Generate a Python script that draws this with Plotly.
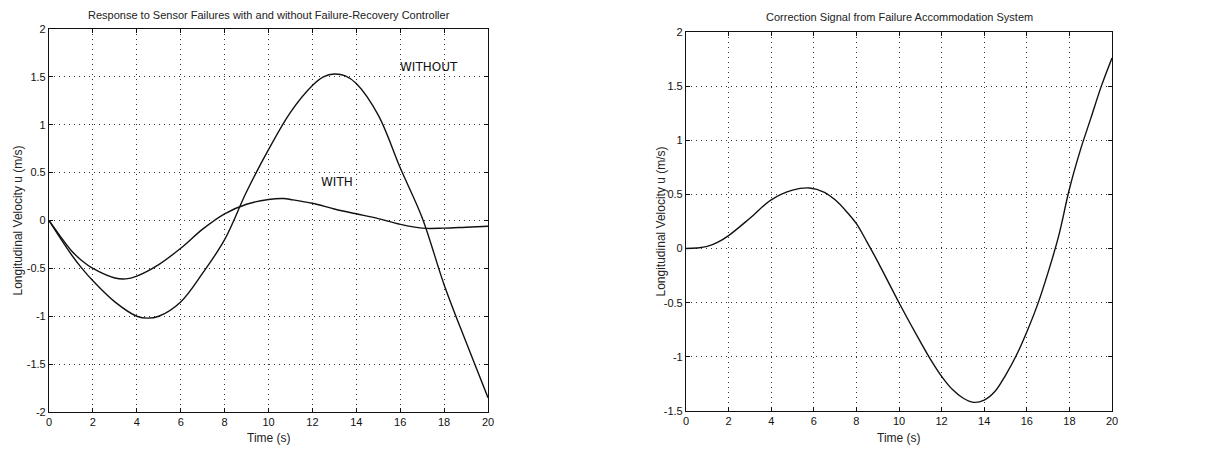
import plotly.graph_objects as go

# ---- data ----
t_without = [0, 0.5, 1, 1.5, 2, 3, 4, 4.5, 5, 6, 7, 8, 9, 10, 11, 12, 12.5, 13, 13.5, 14, 15, 16, 17, 18, 19, 20]
u_without = [0, -0.18, -0.35, -0.5, -0.63, -0.85, -1.0, -1.02, -1.0, -0.85, -0.55, -0.2, 0.3, 0.74, 1.13, 1.41, 1.5, 1.53, 1.51, 1.43, 1.1, 0.55, 0.03, -0.67, -1.27, -1.85]

t_with = [0, 0.5, 1, 1.5, 2, 3, 3.5, 4, 5, 6, 7, 8, 9, 10, 10.7, 11, 12, 13, 14, 15, 16, 17, 18, 19, 20]
u_with = [0, -0.16, -0.31, -0.42, -0.5, -0.6, -0.61, -0.58, -0.46, -0.29, -0.09, 0.07, 0.17, 0.22, 0.23, 0.22, 0.18, 0.12, 0.07, 0.02, -0.04, -0.08, -0.08, -0.07, -0.06]

t_corr = [0, 0.5, 1, 1.5, 2, 3, 4, 5, 5.8, 6.5, 7, 7.5, 8, 8.5, 9, 9.5, 10, 11, 11.5, 12, 12.5, 13, 13.5, 14, 14.5, 15, 15.5, 16, 16.5, 17, 17.5, 18, 18.5, 19, 19.5, 20]
u_corr = [0, 0.005, 0.02, 0.06, 0.12, 0.28, 0.45, 0.54, 0.56, 0.52, 0.45, 0.35, 0.23, 0.06, -0.12, -0.31, -0.5, -0.86, -1.03, -1.18, -1.3, -1.38, -1.42, -1.4, -1.32, -1.17, -0.99, -0.77, -0.52, -0.22, 0.12, 0.55, 0.9, 1.2, 1.5, 1.76]

x_ticks = [0, 2, 4, 6, 8, 10, 12, 14, 16, 18, 20]
y_ticks_left = [-2, -1.5, -1, -0.5, 0, 0.5, 1, 1.5, 2]
y_ticks_right = [-1.5, -1, -0.5, 0, 0.5, 1, 1.5, 2]

title_left = "Response to Sensor Failures with and without Failure-Recovery Controller"
title_right = "Correction Signal from Failure Accommodation System"
x_title = "Time (s)"
y_title = "Longitudinal Velocity u (m/s)"

W, H = 1209, 451
OFF = 8  # default body margin of the html page
FONT = "Liberation Sans"

def fmt(v):
    return "%g" % v

def px(x):
    return (x - OFF) / W

def py(y):
    return 1 - (y - OFF) / H

fig = go.Figure()
line = dict(color="#111111", width=1.4, shape="spline", smoothing=1.0)
fig.add_trace(go.Scatter(x=t_without, y=u_without, mode="lines", line=line, xaxis="x", yaxis="y", showlegend=False))
fig.add_trace(go.Scatter(x=t_with, y=u_with, mode="lines", line=line, xaxis="x", yaxis="y", showlegend=False))
fig.add_trace(go.Scatter(x=t_corr, y=u_corr, mode="lines", line=line, xaxis="x2", yaxis="y2", showlegend=False))

ax_common = dict(
    showline=True, linecolor="#111111", linewidth=1.2, mirror="ticks",
    ticks="inside", ticklen=4, tickcolor="#111111",
    showgrid=True, gridcolor="#333333", griddash="1px,4px", gridwidth=1,
    zeroline=False, automargin=False,
    tickfont=dict(family=FONT, size=11, color="#111111"),
)

L0, L1 = px(49), px(488)
R0, R1 = px(686), px(1112)
LT, LB = py(29), py(412)
RT, RB = py(32), py(411)

fig.update_layout(
    width=W, height=H, autosize=False,
    margin=dict(l=0, r=0, t=0, b=0, autoexpand=False),
    paper_bgcolor="white", plot_bgcolor="white",
    xaxis=dict(ax_common, domain=[L0, L1], range=[0, 20], tickvals=x_ticks,
               ticktext=[fmt(v) for v in x_ticks], anchor="y"),
    yaxis=dict(ax_common, domain=[LB, LT], range=[-2, 2], tickvals=y_ticks_left,
               ticktext=[fmt(v) for v in y_ticks_left], anchor="x"),
    xaxis2=dict(ax_common, domain=[R0, R1], range=[0, 20], tickvals=x_ticks,
                ticktext=[fmt(v) for v in x_ticks], anchor="y2"),
    yaxis2=dict(ax_common, domain=[RB, RT], range=[-1.5, 2], tickvals=y_ticks_right,
                ticktext=[fmt(v) for v in y_ticks_right], anchor="x2"),
)

tf = dict(family=FONT, size=11, color="#222222")
lf = dict(family=FONT, size=12, color="#222222")
ann = [
    dict(text=title_left, x=(L0 + L1) / 2, y=py(15), xref="paper", yref="paper",
         showarrow=False, font=tf, xanchor="center", yanchor="middle"),
    dict(text=title_right, x=(R0 + R1) / 2, y=py(17), xref="paper", yref="paper",
         showarrow=False, font=tf, xanchor="center", yanchor="middle"),
    dict(text=x_title, x=(L0 + L1) / 2, y=py(438), xref="paper", yref="paper",
         showarrow=False, font=lf, xanchor="center", yanchor="middle"),
    dict(text=x_title, x=(R0 + R1) / 2, y=py(438), xref="paper", yref="paper",
         showarrow=False, font=lf, xanchor="center", yanchor="middle"),
    dict(text=y_title, x=px(17), y=(LB + LT) / 2, xref="paper", yref="paper", textangle=-90,
         showarrow=False, font=lf, xanchor="center", yanchor="middle"),
    dict(text=y_title, x=px(660), y=(RB + RT) / 2, xref="paper", yref="paper", textangle=-90,
         showarrow=False, font=lf, xanchor="center", yanchor="middle"),
    dict(text="WITHOUT", x=17.3, y=1.6, xref="x", yref="y",
         showarrow=False, font=dict(family="DejaVu Sans", size=12, color="#111111"),
         xanchor="center", yanchor="middle"),
    dict(text="WITH", x=13.1, y=0.4, xref="x", yref="y",
         showarrow=False, font=dict(family="DejaVu Sans", size=12, color="#111111"),
         xanchor="center", yanchor="middle"),
]
fig.update_layout(annotations=ann)

fig.write_html("out.html")
